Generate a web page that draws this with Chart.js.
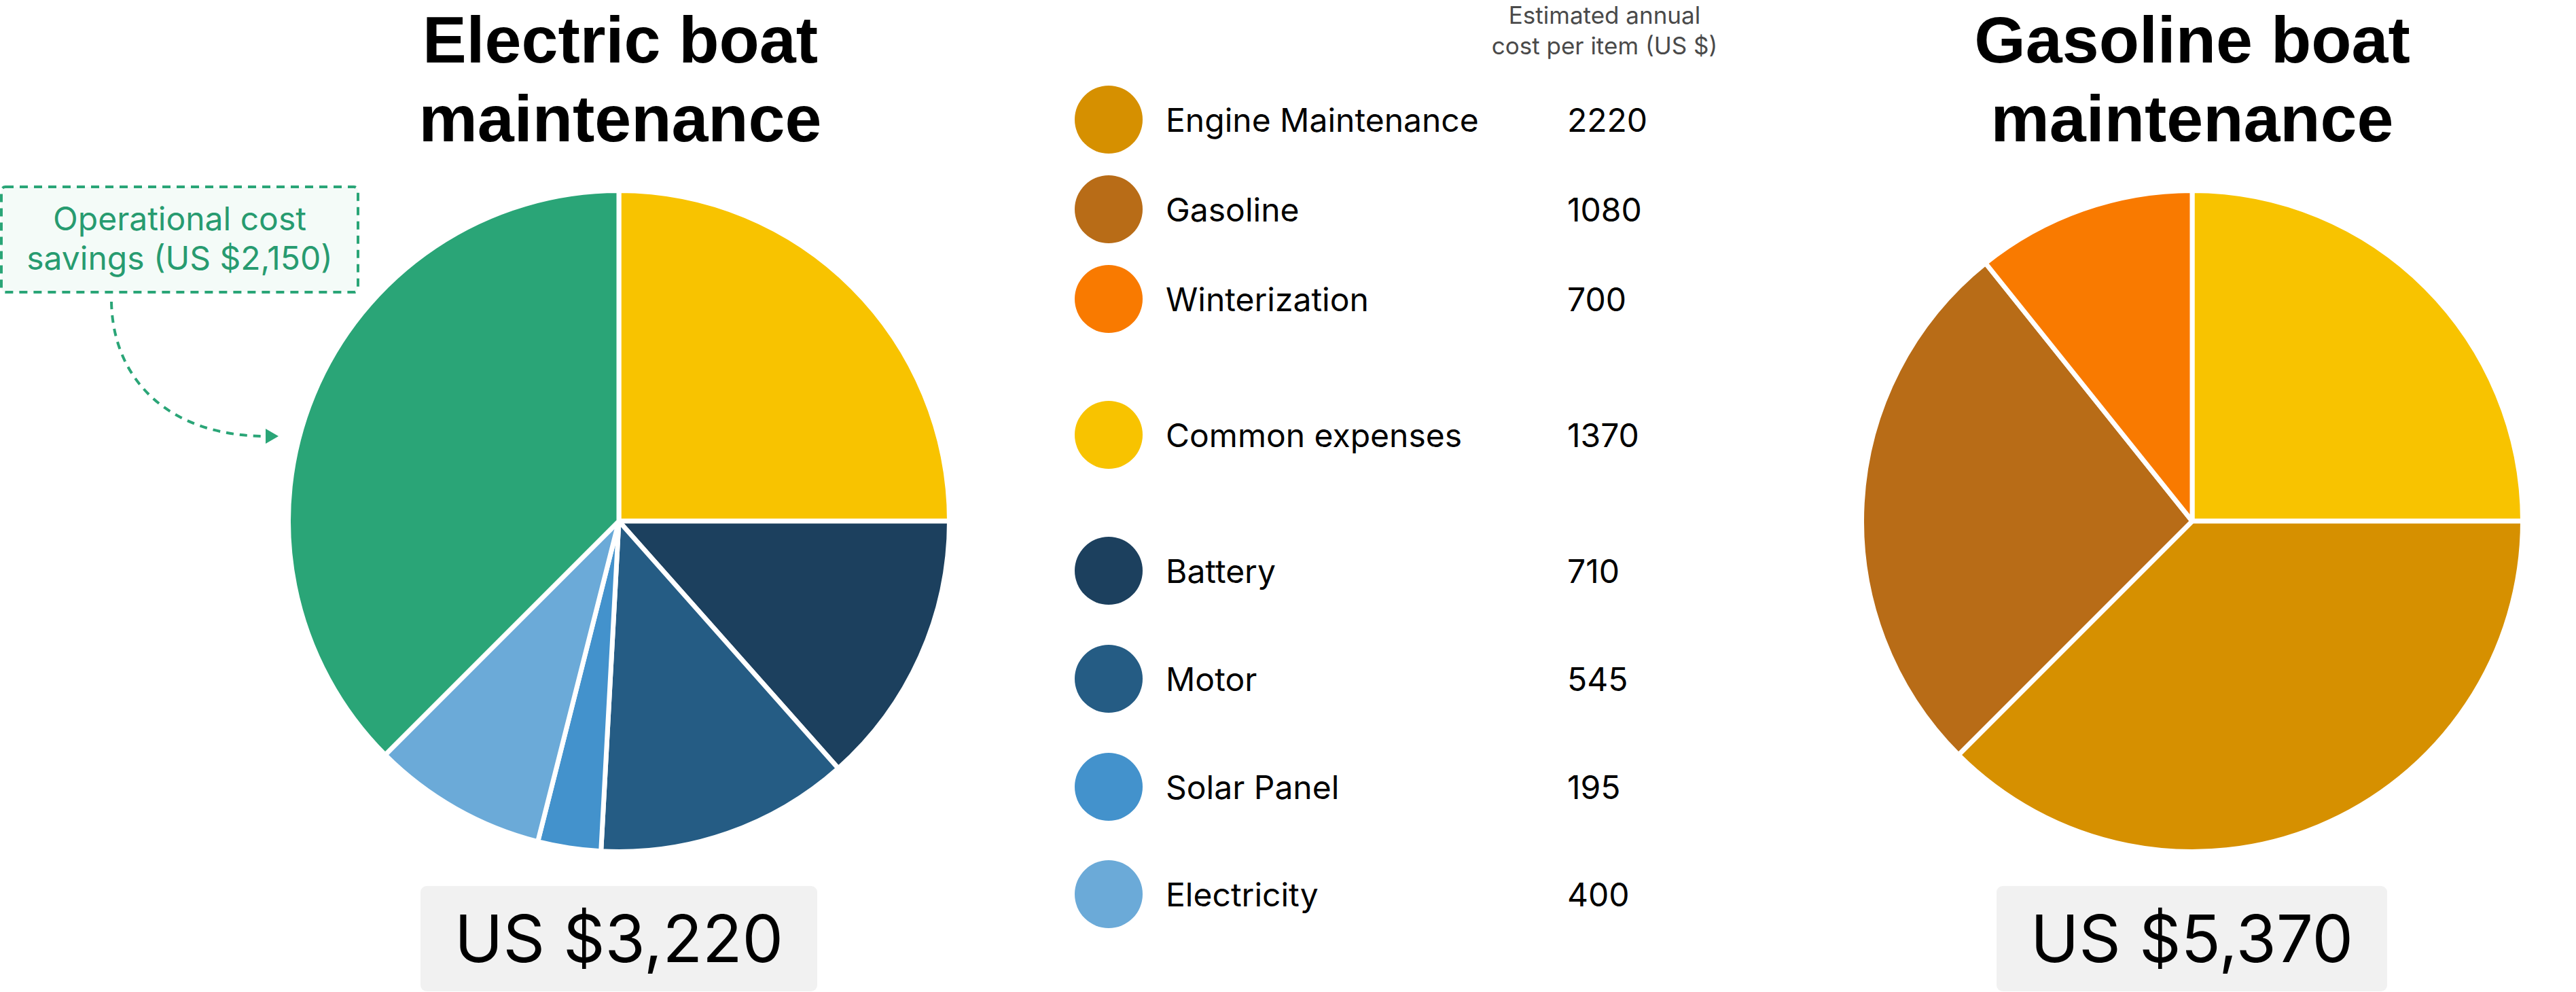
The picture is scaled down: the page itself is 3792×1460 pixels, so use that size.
<!DOCTYPE html>
<html>
<head>
<meta charset="utf-8">
<script src="https://cdn.jsdelivr.net/npm/chart.js@4.4.1/dist/chart.umd.min.js"></script>
<style>
  html, body { margin: 0; padding: 0; background: #ffffff; }
  body { width: 3792px; height: 1460px; position: relative; overflow: hidden; font-family: Inter, "Noto Sans", sans-serif; }
  .abs { position: absolute; }
  .title { font-family: "Liberation Sans", Arial, sans-serif; font-weight: bold; font-size: 97px; line-height: 116px; color: #000; text-align: center; width: 1000px; }
  .hdr { font-size: 35px; line-height: 45px; color: #4a4a4a; text-align: center; width: 500px; }
  .swatch { width: 100px; height: 100px; border-radius: 50%; }
  .lrow { height: 100px; display: flex; align-items: center; font-size: 48px; color: #000; white-space: nowrap; }
  .total { background: #f1f1f1; border-radius: 9px; font-size: 96px; color: #000; text-align: center; }
  .note { font-size: 48px; line-height: 58px; color: #279b70; text-align: center; width: 525px; }
</style>
</head>
<body>
<script>
// ---------------- DATA ----------------
// Legend: estimated annual cost per item (US $), as printed
const commonLabel = 'Common expenses';
const commonValue = 1370;
const gasItemLabels = ['Engine Maintenance', 'Gasoline', 'Winterization'];
const gasItemValues = [2220, 1080, 700];
const elecItemLabels = ['Battery', 'Motor', 'Solar Panel', 'Electricity'];
const elecItemValues = [710, 545, 195, 400];
const savingsLabel = 'Operational cost savings';
const savingsValue = 2150;

// Pie slice sizes as drawn in the picture (degrees of each slice)
const elecSliceLabels = ['Common expenses', 'Battery', 'Motor', 'Solar Panel', 'Electricity', 'Operational cost savings'];
const elecSliceDegrees = [90, 48.4, 44.7, 11.1, 30.8, 135];
const gasSliceLabels = ['Common expenses', 'Engine Maintenance', 'Gasoline', 'Winterization'];
const gasSliceDegrees = [90, 135, 96.3, 38.7];

const electricTitle = ['Electric boat', 'maintenance'];
const gasolineTitle = ['Gasoline boat', 'maintenance'];
const headerLines = ['Estimated annual', 'cost per item (US $)'];

// ---------------- STYLE ----------------
const commonColor = '#f8c300';
const gasItemColors = ['#d69000', '#b86c17', '#f97a00'];
const elecItemColors = ['#1c405e', '#255c84', '#4392cc', '#6baad8'];
const savingsColor = '#2aa577';

const fmt = v => v.toLocaleString('en-US');
const sum = a => a.reduce((s, v) => s + v, 0);
const elecTotal = commonValue + sum(elecItemValues);
const gasTotal = commonValue + sum(gasItemValues);

function el(tag, cls, css, html) {
  const d = document.createElement(tag);
  if (cls) d.className = cls;
  Object.assign(d.style, css || {});
  if (html !== undefined) d.innerHTML = html;
  document.body.appendChild(d);
  return d;
}

// Titles
el('div', 'abs title', { left: (913 - 500) + 'px', top: '1px' }, electricTitle.join('<br>'));
el('div', 'abs title', { left: (3227 - 500) + 'px', top: '1px' }, gasolineTitle.join('<br>'));

// Legend header
el('div', 'abs hdr', { left: (2362 - 250) + 'px', top: '0px' }, headerLines.join('<br>'));

// Legend rows
const legendLabels = [...gasItemLabels, commonLabel, ...elecItemLabels];
const legendValues = [...gasItemValues, commonValue, ...elecItemValues];
const legendColors = [...gasItemColors, commonColor, ...elecItemColors];
const rowCenters = [176, 308, 440, 640, 840, 999, 1158, 1316];
legendLabels.forEach((lab, i) => {
  const cy = rowCenters[i];
  el('div', 'abs swatch', { left: '1582px', top: (cy - 50) + 'px', background: legendColors[i] });
  el('div', 'abs lrow', { left: '1716px', top: (cy - 50) + 'px' }, lab);
  el('div', 'abs lrow', { left: '2307px', top: (cy - 50) + 'px' }, String(legendValues[i]));
});

// Totals
el('div', 'abs total', { left: '619px', top: '1304px', width: '584px', height: '155px', lineHeight: '155px' }, 'US $' + fmt(elecTotal));
el('div', 'abs total', { left: '2939px', top: '1304px', width: '575px', height: '155px', lineHeight: '155px' }, 'US $' + fmt(gasTotal));

// Annotation (box + arrow)
const svgNS = 'http://www.w3.org/2000/svg';
const svg = document.createElementNS(svgNS, 'svg');
svg.setAttribute('width', '700'); svg.setAttribute('height', '700');
svg.style.position = 'absolute'; svg.style.left = '0'; svg.style.top = '0';
svg.innerHTML =
  '<rect x="2" y="275" width="525" height="155" rx="6" fill="#f4fbf8" stroke="#2aa577" stroke-width="4" stroke-dasharray="12 9"/>' +
  '<path d="M164 444 C 166 560, 250 642, 392 642" fill="none" stroke="#2aa577" stroke-width="4" stroke-dasharray="11 9"/>' +
  '<path d="M391 631 L410 642 L391 653 Z" fill="#2aa577"/>';
document.body.appendChild(svg);
el('div', 'abs note', { left: '2px', top: '293px' }, 'Operational cost<br>savings (US $' + fmt(savingsValue) + ')');

// Pie charts
function makePie(cx, cy, labels, values, colors) {
  const c = document.createElement('canvas');
  c.width = 980; c.height = 980;
  c.style.position = 'absolute';
  c.style.left = (cx - 490) + 'px';
  c.style.top = (cy - 490) + 'px';
  c.style.width = '980px'; c.style.height = '980px';
  document.body.appendChild(c);
  new Chart(c, {
    type: 'pie',
    data: { labels: labels, datasets: [{ data: values, backgroundColor: colors, borderColor: '#ffffff', borderWidth: 7 }] },
    options: {
      responsive: false, animation: false, maintainAspectRatio: false,
      layout: { padding: 0 },
      plugins: { legend: { display: false }, tooltip: { enabled: false }, title: { display: false } }
    }
  });
}
makePie(911, 767, elecSliceLabels, elecSliceDegrees, [commonColor, ...elecItemColors, savingsColor]);
makePie(3227, 767, gasSliceLabels, gasSliceDegrees, [commonColor, ...gasItemColors]);
</script>
</body>
</html>
